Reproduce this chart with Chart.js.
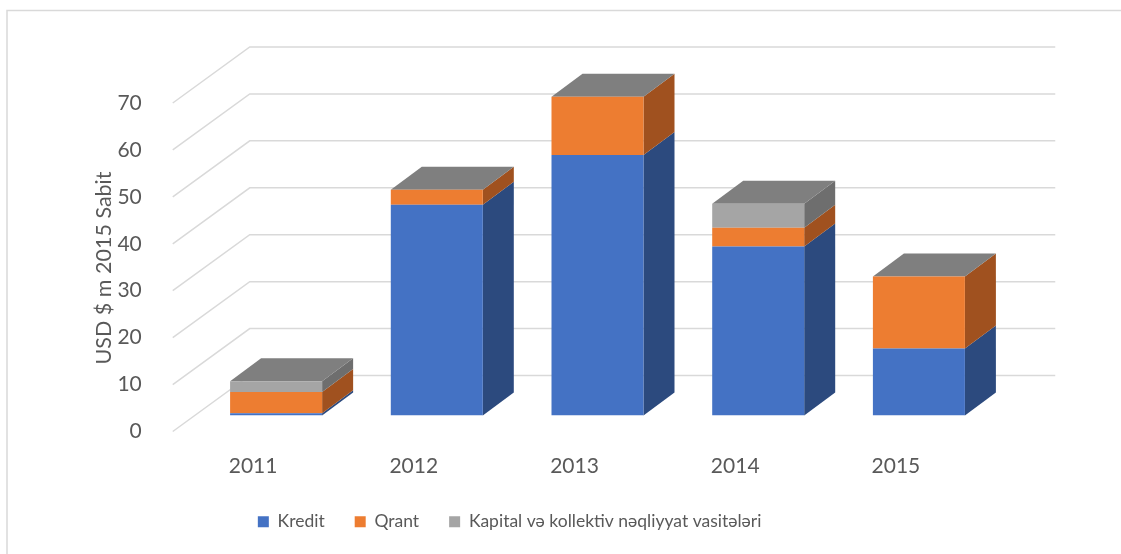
<!DOCTYPE html>
<html>
<head>
<meta charset="utf-8">
<script src="https://cdn.jsdelivr.net/npm/chart.js@4/dist/chart.umd.min.js"></script>
<style>
  html, body { margin: 0; padding: 0; background: #fff; }
  #wrap { width: 1121px; height: 554px; }
</style>
</head>
<body>
<div id="wrap"><canvas id="aidChart"></canvas></div>
<script>
const years = ['2011', '2012', '2013', '2014', '2015'];
const kredit = [0.5, 44.9, 55.5, 36.0, 14.3];
const qrant = [4.5, 3.2, 12.4, 4.0, 15.3];
const kapital = [2.3, 0, 0, 5.1, 0];
const yTicks = [0, 10, 20, 30, 40, 50, 60, 70];

const textColor = '#595959';
const fontName = 'Lato';

// 3D look: bar depth and the floor/back wall offsets (pixels)
const depth = { dx: 31, dy: -23 };
const wall = { fx: -23, fy: 16, bx: 54, by: -40 };
const sideColors = ['#2c4a7e', '#a0511f', '#6e6e6e'];
const topColor = '#7f7f7f';

const box3d = {
  id: 'box3d',
  beforeDatasetsDraw(chart) {
    const { ctx, scales: { x, y } } = chart;
    ctx.save();
    // left wall diagonals + back wall lines
    ctx.strokeStyle = '#d9d9d9';
    ctx.lineWidth = 1.5;
    yTicks.forEach(function(v) {
      const py = y.getPixelForValue(v);
      ctx.beginPath();
      ctx.moveTo(x.left + wall.fx, py + wall.fy);
      ctx.lineTo(x.left + wall.bx, py + wall.by);
      ctx.lineTo(x.right + wall.bx + 2, py + wall.by);
      ctx.stroke();
    });

    // side faces and the top face of each stack
    const last = chart.data.datasets.length - 1;
    chart.data.datasets.forEach(function(ds, di) {
      const meta = chart.getDatasetMeta(di);
      meta.data.forEach(function(bar) {
        const half = bar.width / 2;
        const x1 = bar.x - half, x2 = bar.x + half;
        const top = Math.min(bar.y, bar.base);
        const bot = Math.max(bar.y, bar.base);
        if (bot - top > 0) {
          ctx.fillStyle = sideColors[di];
          ctx.beginPath();
          ctx.moveTo(x2, top);
          ctx.lineTo(x2 + depth.dx, top + depth.dy);
          ctx.lineTo(x2 + depth.dx, bot + depth.dy);
          ctx.lineTo(x2, bot);
          ctx.closePath();
          ctx.fill();
        }
        if (di === last) {
          ctx.fillStyle = topColor;
          ctx.beginPath();
          ctx.moveTo(x1, top);
          ctx.lineTo(x1 + depth.dx, top + depth.dy);
          ctx.lineTo(x2 + depth.dx, top + depth.dy);
          ctx.lineTo(x2, top);
          ctx.closePath();
          ctx.fill();
        }
      });
    });
    ctx.restore();
  },
  afterDraw(chart) {
    const ctx = chart.ctx;
    ctx.save();
    ctx.strokeStyle = '#d9d9d9';
    ctx.lineWidth = 1.5;
    ctx.strokeRect(7, 10.5, 1130, 560);
    // y axis title
    ctx.translate(104, 268);
    ctx.rotate(-Math.PI / 2);
    ctx.fillStyle = textColor;
    ctx.font = '21.5px ' + fontName;
    ctx.textAlign = 'center';
    ctx.textBaseline = 'middle';
    ctx.fillText('USD $ m 2015 Sabit', 0, 0);
    ctx.restore();
  }
};

const ctx = document.getElementById('aidChart').getContext('2d');
new Chart(ctx, {
  type: 'bar',
  data: {
    labels: years,
    datasets: [
      { label: 'Kredit', data: kredit, backgroundColor: '#4472c4' },
      { label: 'Qrant', data: qrant, backgroundColor: '#ed7d31' },
      { label: 'Kapital və kollektiv nəqliyyat vasitələri', data: kapital, backgroundColor: '#a5a5a5' }
    ]
  },
  options: {
    responsive: true,
    maintainAspectRatio: false,
    animation: false,
    layout: { padding: { top: 87, right: 121.75, bottom: 13.5, left: 20 } },
    datasets: { bar: { barPercentage: 0.5725, categoryPercentage: 1, borderWidth: 0 } },
    plugins: {
      tooltip: { enabled: false },
      legend: {
        position: 'bottom',
        labels: {
          boxWidth: 11,
          boxHeight: 11,
          padding: 30,
          color: textColor,
          font: { family: fontName, size: 17.5 }
        }
      }
    },
    scales: {
      x: {
        stacked: true,
        grid: { display: false },
        border: { display: false },
        ticks: { labelOffset: -23, padding: 30, color: textColor, font: { family: fontName, size: 21 } },
        afterFit: function(scale) { scale.height = 67.5; }
      },
      y: {
        stacked: true,
        min: 0,
        max: 70,
        grid: { display: false },
        border: { display: false },
        afterBuildTicks: function(scale) { scale.ticks = yTicks.map(v => ({ value: v })); },
        ticks: { labelOffset: 16, padding: 46, color: textColor, font: { family: fontName, size: 21 } },
        afterFit: function(scale) { scale.width = 175.75; }
      }
    }
  },
  plugins: [box3d]
});
</script>
</body>
</html>
